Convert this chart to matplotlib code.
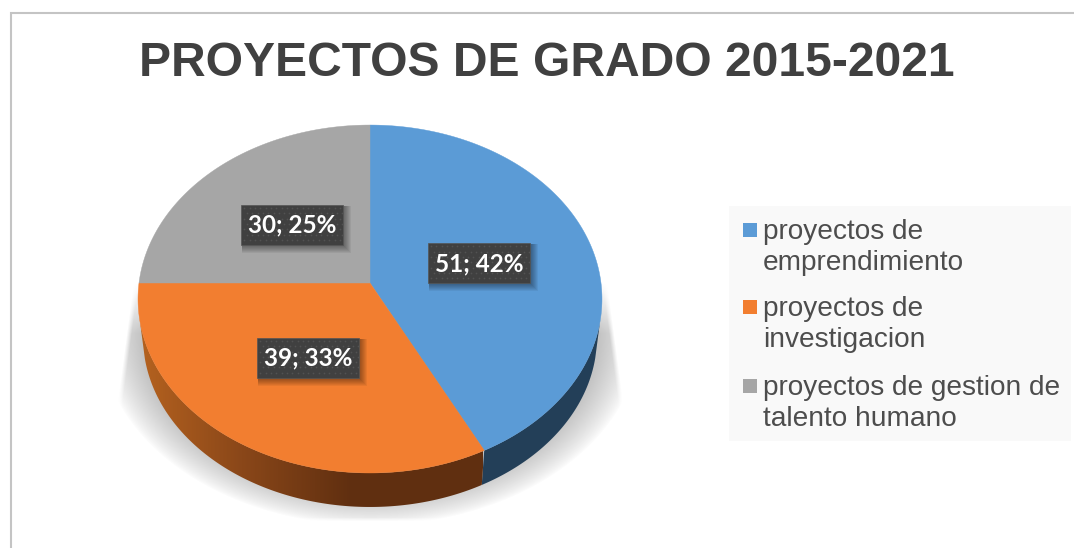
import numpy as np
import matplotlib
matplotlib.use("Agg")
import matplotlib.pyplot as plt
from matplotlib.patches import Polygon, Rectangle
from matplotlib.colors import LinearSegmentedColormap

titulo = "PROYECTOS DE GRADO 2015-2021"
categorias = ["proyectos de\nemprendimiento", "proyectos de\ninvestigacion",
              "proyectos de gestion de\ntalento humano"]
valores = [51, 39, 30]
porcentajes = [42, 33, 25]

colores = ["#5b9bd6", "#f27e30", "#a6a6a6"]

# pie geometry in image pixels (perspective view of a tilted disc)
CX, CY = 370, 283
A, B, C = 231, 172.5, 0.092
ELIPSE_Y, RX, RY = 299, 232, 174
BASE_Y, BASE_RX, BASE_RY = 337, 227, 170

fig = plt.figure(figsize=(10.74, 5.48), dpi=100, facecolor="white")
ax = fig.add_axes([0, 0, 1, 1])
ax.axis("off")


def proyectar(angulo, r=1.0):
    u = r * np.sin(angulo)
    v = r * np.cos(angulo)
    d = 1 + C * v
    return CX + A * u / d, CY - B * v / d


def a_base(x, y):
    # same point of the rim on the lower ellipse
    return CX + (x - CX) * BASE_RX / RX, BASE_Y + (y - ELIPSE_Y) * BASE_RY / RY


# soft shadow under the pie
xs, ys = np.meshgrid(np.arange(118, 622), np.arange(270, 522))
r = np.sqrt(((xs - CX) / 270.0) ** 2 + ((ys - 333) / 192.0) ** 2)
alfa = np.clip((1.0 - r) / 0.15, 0, 1) ** 0.8
margen = np.maximum(0, 16 * (ys - 283) / 120.0)
dx = np.abs(xs - CX) - (232 + margen)
alfa = alfa * np.clip(1 - dx / 5.0, 0, 1) * np.clip((ys - 283) / 50.0, 0, 1)
alfa = alfa * np.clip(1 - (ys - 517) / 4.0, 0, 1)
sombra = np.ones(xs.shape + (4,))
sombra[..., :3] = 0.77
sombra[..., 3] = alfa
ax.imshow(sombra, extent=(118, 622, 522, 270), interpolation="bilinear", zorder=1, aspect="auto")

grad_naranja = LinearSegmentedColormap.from_list(
    "lado", [(0.0, "#b5621f"), (0.3, "#8a4719"), (0.62, "#602f10"), (1.0, "#602f10")])

total = sum(valores)
inicio = 0.0
angulos = []
for v in valores:
    fin = inicio + 2 * np.pi * v / total
    angulos.append((inicio, fin))
    inicio = fin


def pared(a0, a1):
    # front wall of a slice, between the rim and the lower ellipse
    t = np.linspace(a0, a1, 300)
    x, y = proyectar(t)
    visible = y > 320
    x, y = x[visible], y[visible]
    bx, by = a_base(x, y)
    return list(zip(x, y)) + list(zip(bx[::-1], by[::-1]))


ax.add_patch(Polygon(pared(*angulos[0]), facecolor="#233f58", edgecolor="none", zorder=2))

pared_naranja = Polygon(pared(*angulos[1]), facecolor="none", edgecolor="none", zorder=2)
ax.add_patch(pared_naranja)
gradiente = ax.imshow(np.linspace(0, 1, 345).reshape(1, -1), cmap=grad_naranja, aspect="auto",
                      extent=(138, 483, 520, 300), zorder=2)
gradiente.set_clip_path(pared_naranja)

# top face
for i, (a0, a1) in enumerate(angulos):
    t = np.linspace(a0, a1, 200)
    x, y = proyectar(t)
    puntos = [(CX, CY)] + list(zip(x, y))
    ax.add_patch(Polygon(puntos, facecolor=colores[i], edgecolor=colores[i], linewidth=0.3, zorder=3))

# data labels
for i, (a0, a1) in enumerate(angulos):
    lx, ly = proyectar((a0 + a1) / 2, 0.49)
    w, h = 102, 40
    for s in range(7, 0, -1):
        ax.add_patch(Rectangle((lx - w / 2 + 1, ly - h / 2 + 1), w + s, h + s,
                               facecolor="#000000", alpha=0.055, edgecolor="none", zorder=4))
    ax.add_patch(Rectangle((lx - w / 2, ly - h / 2), w, h, facecolor="#404040",
                           edgecolor="#555555", linewidth=0.5, zorder=5))
    # dotted texture of the label box
    px, py = np.meshgrid(np.arange(lx - w / 2 + 3, lx + w / 2, 5.3), np.arange(ly - h / 2 + 3, ly + h / 2, 5.3))
    px[1::2] += 2.6
    ax.scatter(px.ravel(), py.ravel(), s=1.6, color="#525252", linewidths=0, zorder=6)
    ax.text(lx, ly, f"{valores[i]}; {porcentajes[i]}%", color="white", fontsize=17.5, family="Lato",
            fontweight="bold", ha="center", va="center", zorder=7)

ax.text(547, 64, titulo, fontsize=34.6, family="Liberation Sans", fontweight="bold", color="#404040",
        ha="center", va="center", zorder=8)

# legend
ax.add_patch(Rectangle((729, 206), 342, 235, facecolor="#f9f9f9", edgecolor="none", zorder=1))
leyenda_y = [230, 307, 386]
for i, cat in enumerate(categorias):
    ax.add_patch(Rectangle((743, leyenda_y[i] - 7), 14, 14, facecolor=colores[i], edgecolor="none", zorder=3))
    ax.text(763, leyenda_y[i] - 11, cat, fontsize=20.2, family="Liberation Sans", color="#4d4d4d",
            ha="left", va="top", linespacing=1.24, zorder=3)

# chart frame, cropped at right and bottom
ax.plot([11, 11, 1074], [548, 13, 13], color="#c4c4c4", linewidth=1.5, zorder=9, solid_joinstyle="miter")

ax.set_xlim(0, 1074)
ax.set_ylim(548, 0)

fig.savefig("out.png", dpi=100, facecolor="white")
